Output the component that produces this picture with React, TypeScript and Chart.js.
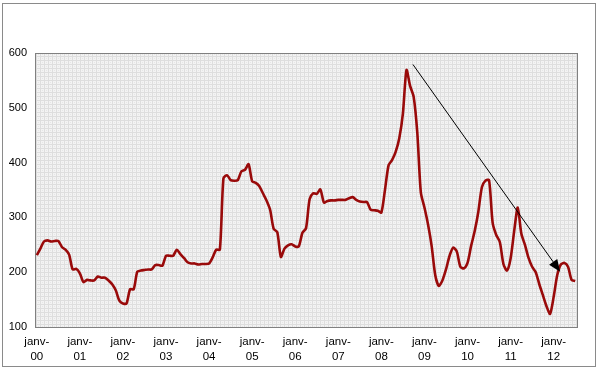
import React, { useEffect, useRef } from "react";
import { Chart, registerables } from "chart.js";

Chart.register(...registerables);

const years = ["00", "01", "02", "03", "04", "05", "06", "07", "08", "09", "10", "11", "12"];

// Monthly values, janv-2000 .. juil-2012
const values: number[] = [
  // 2000
  231, 243, 256, 258, 256, 257, 257, 246, 241, 232, 205, 206,
  // 2001
  198, 182, 186, 185, 185, 192, 190, 190, 185, 178, 167, 148,
  // 2002
  143, 143, 169, 169, 201, 203, 204, 205, 205, 213, 213, 212,
  // 2003
  230, 230, 230, 241, 233, 226, 218, 216, 216, 214, 215, 215,
  // 2004
  216, 227, 241, 241, 371, 377, 368, 367, 368, 384, 387, 397,
  // 2005
  366, 363, 357, 344, 331, 314, 279, 273, 228, 243, 249, 251,
  // 2006
  247, 247, 272, 280, 333, 344, 343, 351, 327, 330, 331, 331,
  // 2007
  332, 332, 332, 335, 337, 332, 329, 328, 328, 314, 313, 312,
  // 2008
  309, 350, 395, 405, 420, 445, 490, 569, 540, 520, 455, 345,
  // 2009
  318, 287, 248, 195, 175, 185, 205, 230, 245, 238, 210, 207,
  // 2010
  217, 248, 275, 310, 355, 367, 368, 290, 268, 255, 215, 203,
  // 2011
  225, 275, 318, 270, 250, 226, 210, 200, 178, 158, 138, 124,
  // 2012
  155, 195, 214, 217, 210, 186, 184,
];

// Trend arrow: [month index, value] start and end
const arrowStart = [104.8, 579];
const arrowEnd = [145.8, 201];

const yTicks = [100, 200, 300, 400, 500, 600];

const labels: (string | string[])[] = values.map((_, i) =>
  i % 12 === 0 ? ["janv-", years[i / 12]] : ""
);

function makePattern(ctx: CanvasRenderingContext2D) {
  const c = document.createElement("canvas");
  c.width = 4;
  c.height = 4;
  const p = c.getContext("2d")!;
  p.fillStyle = "#f3f3f3";
  p.fillRect(0, 0, 4, 4);
  p.fillStyle = "#dedede";
  p.fillRect(0, 0, 4, 1);
  p.fillRect(0, 0, 1, 4);
  p.fillStyle = "#e6e6e6";
  p.fillRect(2, 2, 1, 1);
  return ctx.createPattern(c, "repeat");
}

const decorPlugin = {
  id: "decor",
  beforeDraw(chart: any) {
    const { ctx, chartArea } = chart;
    ctx.save();
    ctx.fillStyle = "#ffffff";
    ctx.fillRect(0, 0, chart.width, chart.height);
    const pat = makePattern(ctx);
    if (pat) {
      ctx.fillStyle = pat;
      ctx.fillRect(chartArea.left, chartArea.top, chartArea.right - chartArea.left, chartArea.bottom - chartArea.top);
    }
    ctx.restore();
  },
  beforeDatasetsDraw(chart: any) {
    const { ctx, chartArea } = chart;
    ctx.save();
    ctx.strokeStyle = "#808080";
    ctx.lineWidth = 1;
    ctx.strokeRect(
      Math.round(chartArea.left) + 0.5,
      Math.round(chartArea.top) + 0.5,
      Math.round(chartArea.right - chartArea.left),
      Math.round(chartArea.bottom - chartArea.top)
    );
    ctx.restore();
  },
  afterDraw(chart: any) {
    const { ctx } = chart;
    const xs = chart.scales.x;
    const ys = chart.scales.y;
    const x0 = xs.getPixelForValue(arrowStart[0]);
    const y0 = ys.getPixelForValue(arrowStart[1]);
    const x1 = xs.getPixelForValue(arrowEnd[0]);
    const y1 = ys.getPixelForValue(arrowEnd[1]);
    ctx.save();
    ctx.strokeStyle = "#000000";
    ctx.fillStyle = "#000000";
    ctx.lineWidth = 1;
    const ang = Math.atan2(y1 - y0, x1 - x0);
    const headLen = 12;
    const headW = 5;
    const bx = x1 - headLen * Math.cos(ang);
    const by = y1 - headLen * Math.sin(ang);
    ctx.beginPath();
    ctx.moveTo(x0, y0);
    ctx.lineTo(bx, by);
    ctx.stroke();
    ctx.beginPath();
    ctx.moveTo(x1, y1);
    ctx.lineTo(bx + headW * Math.sin(ang), by - headW * Math.cos(ang));
    ctx.lineTo(bx - headW * Math.sin(ang), by + headW * Math.cos(ang));
    ctx.closePath();
    ctx.fill();
    // outer chart border
    ctx.strokeStyle = "#8a8a8a";
    ctx.lineWidth = 1;
    ctx.strokeRect(2.5, 3.5, 593, 363);
    ctx.restore();
  },
};

export default function App() {
  const ref = useRef<HTMLCanvasElement>(null);
  useEffect(() => {
    document.body.style.margin = "0";
    const chart = new Chart(ref.current!, {
      type: "line",
      data: {
        labels,
        datasets: [
          {
            data: values,
            borderColor: "#990a0a",
            borderWidth: 2.6,
            pointRadius: 0,
            tension: 0.25,
            fill: false,
          },
        ],
      },
      options: {
        animation: false,
        responsive: false,
        devicePixelRatio: 1,
        layout: { padding: { left: 0, top: 53, right: 22, bottom: 0 } },
        plugins: { legend: { display: false }, tooltip: { enabled: false } },
        scales: {
          x: {
            type: "category",
            offset: true,
            grid: { display: false, drawTicks: false },
            border: { display: false },
            ticks: {
              autoSkip: false,
              maxRotation: 0,
              minRotation: 0,
              padding: 8,
              color: "#000000",
              font: { family: "'Liberation Sans', Arial, sans-serif", size: 11.5, lineHeight: 1.25 },
            },
            afterFit: (s: any) => {
              s.height = 44;
            },
          },
          y: {
            min: 100,
            max: 600,
            grid: { display: false, drawTicks: false },
            border: { display: false },
            afterBuildTicks: (s: any) => {
              s.ticks = yTicks.map((v) => ({ value: v }));
            },
            ticks: {
              padding: 8,
              color: "#000000",
              font: { family: "'Liberation Sans', Arial, sans-serif", size: 11 },
            },
            afterFit: (s: any) => {
              s.width = 35;
            },
          },
        },
      },
      plugins: [decorPlugin],
    });
    return () => chart.destroy();
  }, []);
  return (
    <div style={{ position: "absolute", left: 0, top: 0, width: 599, height: 371 }}>
      <canvas ref={ref} width={599} height={371} style={{ display: "block" }} />
    </div>
  );
}
